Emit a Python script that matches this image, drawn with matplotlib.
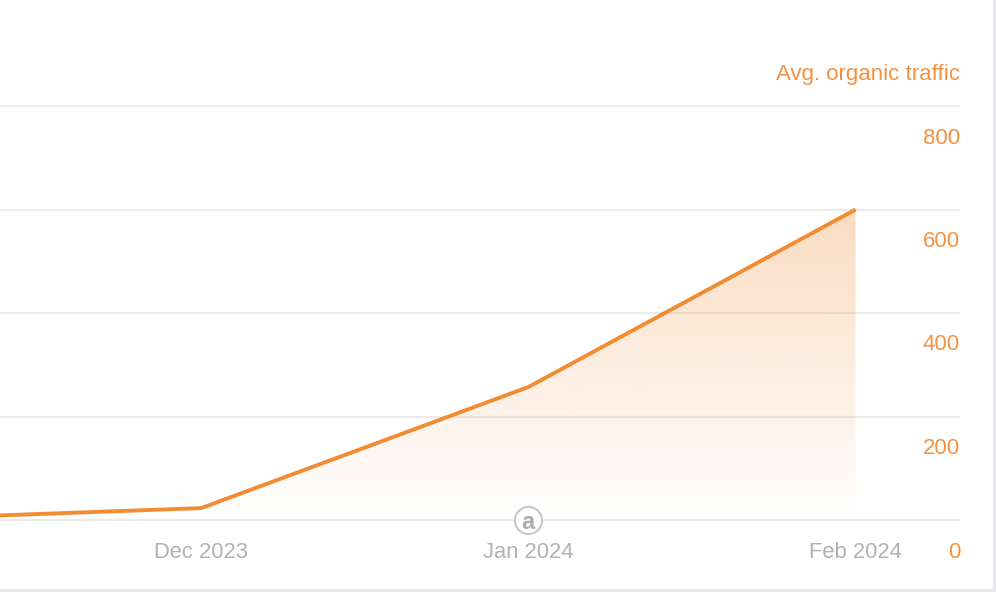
import numpy as np
import matplotlib
matplotlib.use('Agg')
import matplotlib.pyplot as plt
from matplotlib.colors import to_rgb
from matplotlib.patches import Rectangle

plt.rcParams['font.family'] = ['Liberation Sans', 'DejaVu Sans']

months = ['Nov 2023', 'Dec 2023', 'Jan 2024', 'Feb 2024']
traffic = [0, 23, 257, 600]
shown_months = ['Dec 2023', 'Jan 2024', 'Feb 2024']
y_ticks = [0, 200, 400, 600, 800]

ORANGE = '#f28c33'
TEXT_ORANGE = '#f39242'
GREY = '#b2b2b2'
GRID = '#ebebeb'

W, H = 996, 592
fig = plt.figure(figsize=(W / 100, H / 100), dpi=100, facecolor='white')

# page edges of the card
fig.add_artist(Rectangle((993 / W, 0), 3 / W, 1, transform=fig.transFigure, color='#e8e8ea', lw=0))
fig.add_artist(Rectangle((0, 0), 1, 3 / H, transform=fig.transFigure, color='#e8e8ea', lw=0))

ax = fig.add_axes([0, (H - 520) / H, 960 / W, 414 / H])
x = np.arange(len(months))
for s in ax.spines.values():
    s.set_visible(False)
ax.set_xticks([])
ax.set_yticks([])
ax.patch.set_alpha(0)

for v in y_ticks:
    ax.axhline(v, color=GRID, lw=1.6, zorder=1, clip_on=False, solid_capstyle='butt')

# area under the line, orange fading out downwards, gridlines stay visible
poly = ax.fill_between(x, traffic, 0, color='none', lw=0)
grad = np.zeros((256, 1, 4))
grad[..., :3] = to_rgb('#f08a30')
grad[:, 0, 3] = np.linspace(0, 0.30, 256)
im = ax.imshow(grad, origin='lower', aspect='auto',
               extent=(x[0], x[-1], 0, max(traffic)), zorder=2)
im.set_clip_path(poly.get_paths()[0], transform=ax.transData)
ax.set_xlim(0.385, 3.319)
ax.set_ylim(0, 800)

ax.plot(x, traffic, color=ORANGE, lw=2.8, zorder=3, solid_joinstyle='miter', solid_capstyle='butt')

# y labels sit below their gridlines, at the right edge; the 0 sits a little lower
for v in y_ticks:
    drop = 33 if v == 0 else 32
    ax.annotate(str(v), xy=(1, v), xycoords=('axes fraction', 'data'), xytext=(0, -drop * 0.72),
                textcoords='offset points', ha='right', va='center', color=TEXT_ORANGE, fontsize=16,
                annotation_clip=False)

for m in shown_months:
    ax.annotate(m, xy=(months.index(m), 0), xytext=(0, -32 * 0.72), textcoords='offset points',
                ha='center', va='center', color=GREY, fontsize=15.8, annotation_clip=False)

ax.annotate('Avg. organic traffic', xy=(1, 800), xycoords=('axes fraction', 'data'),
            xytext=(0, 32 * 0.72), textcoords='offset points', ha='right', va='center',
            color=TEXT_ORANGE, fontsize=16, annotation_clip=False)

# logo on the baseline
ax.plot([2], [0], 'o', ms=19.5, mfc='white', mec='#c8c8c8', mew=1.5, zorder=5, clip_on=False)
ax.annotate('a', xy=(2, 0), xytext=(-0.7, 0), textcoords='offset points', ha='center', va='center_baseline',
            color='#ababab', fontsize=17, fontweight='bold', zorder=6, annotation_clip=False)

fig.savefig('out.png', dpi=100)
